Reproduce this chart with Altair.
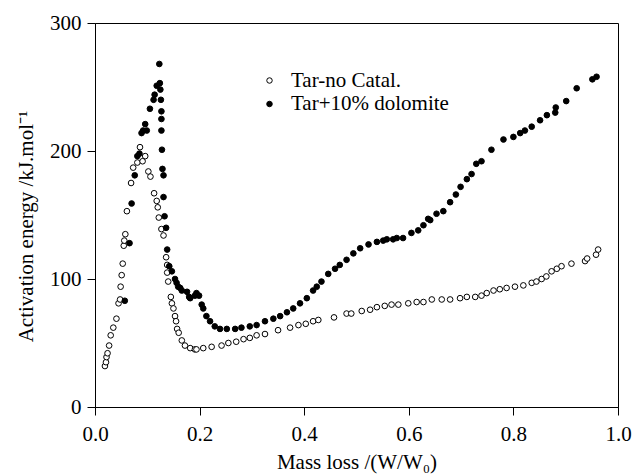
import altair as alt
import pandas as pd

# Tar-no Catal. (open circles)
x_open = [0.019, 0.021, 0.022, 0.024, 0.027, 0.030, 0.035, 0.041, 0.045, 0.048, 0.049, 0.051, 0.053,
          0.055, 0.056, 0.058, 0.061, 0.069, 0.073, 0.081, 0.086, 0.091, 0.096, 0.102, 0.106, 0.113,
          0.118, 0.120, 0.122, 0.127, 0.131, 0.136, 0.138, 0.138, 0.140, 0.145, 0.147, 0.150, 0.153,
          0.155, 0.157, 0.160, 0.166, 0.172, 0.182, 0.191, 0.194, 0.207, 0.223, 0.242, 0.255, 0.270,
          0.284, 0.296, 0.309, 0.325, 0.350, 0.373, 0.389, 0.403, 0.417, 0.427, 0.457, 0.481, 0.490,
          0.510, 0.526, 0.539, 0.554, 0.567, 0.580, 0.599, 0.615, 0.628, 0.644, 0.663, 0.679, 0.698,
          0.711, 0.727, 0.739, 0.749, 0.762, 0.774, 0.787, 0.803, 0.819, 0.835, 0.844, 0.854, 0.863,
          0.873, 0.883, 0.892, 0.911, 0.937, 0.941, 0.958, 0.962]
y_open = [32, 35, 39, 42, 48, 56, 62, 69, 81, 84, 94, 103, 112,
          126, 130, 135, 153, 175, 187, 191, 203, 192, 196, 184, 180, 167,
          161, 156, 148, 139, 134, 117, 111, 105, 98, 86, 81, 77, 71,
          67, 61, 58, 52, 48, 46, 45, 45, 46, 47, 48, 50, 51,
          53, 54, 56, 57, 60, 62, 64, 65, 67, 68, 70, 73, 73,
          75, 76, 78, 79, 80, 80, 81, 82, 82, 84, 84, 84, 85,
          86, 86, 87, 89, 91, 92, 93, 94, 95, 97, 98, 100, 102,
          106, 108, 110, 112, 114, 116, 119, 123]

# Tar+10% dolomite (filled circles)
x_fill = [0.057, 0.066, 0.070, 0.076, 0.081, 0.085, 0.089, 0.092, 0.096, 0.099, 0.105, 0.112, 0.114,
          0.118, 0.123, 0.124, 0.125, 0.126, 0.127, 0.127, 0.127, 0.128, 0.129, 0.131, 0.131, 0.133,
          0.136, 0.138, 0.142, 0.147, 0.153, 0.156, 0.159, 0.163, 0.166, 0.176, 0.180, 0.182, 0.191,
          0.194, 0.199, 0.204, 0.207, 0.213, 0.220, 0.229, 0.239, 0.252, 0.268, 0.280, 0.296, 0.309,
          0.325, 0.341, 0.354, 0.367, 0.379, 0.392, 0.405, 0.417, 0.424, 0.433, 0.446, 0.459, 0.468,
          0.481, 0.494, 0.507, 0.523, 0.539, 0.551, 0.558, 0.570, 0.577, 0.589, 0.605, 0.618, 0.628,
          0.637, 0.641, 0.653, 0.666, 0.679, 0.690, 0.699, 0.711, 0.720, 0.729, 0.739, 0.758, 0.781,
          0.800, 0.813, 0.822, 0.835, 0.851, 0.864, 0.880, 0.881, 0.901, 0.921, 0.951, 0.959]
y_fill = [83, 128, 159, 181, 196, 198, 214, 216, 221, 216, 233, 240, 244,
          251, 268, 253, 248, 240, 231, 225, 216, 201, 186, 181, 164, 149,
          140, 123, 110, 106, 100, 97, 94, 93, 91, 90, 86, 85, 87,
          89, 87, 80, 77, 71, 67, 63, 61, 61, 61, 62, 63, 64,
          67, 69, 71, 74, 77, 81, 85, 91, 94, 98, 104, 108, 111,
          115, 120, 124, 127, 129, 130, 131, 131, 132, 132, 136, 138, 142,
          147, 146, 151, 153, 160, 166, 172, 178, 182, 190, 192, 201, 209,
          211, 214, 216, 219, 224, 228, 230, 234, 239, 249, 256, 258]

series_names = ["Tar-no Catal.", "Tar+10% dolomite"]

df = pd.concat([
    pd.DataFrame({"x": x_open, "y": y_open, "series": series_names[0]}),
    pd.DataFrame({"x": x_fill, "y": y_fill, "series": series_names[1]}),
])

FONT = "Liberation Serif"
FS = 21

chart = alt.Chart(df).mark_point(shape="circle", size=32, strokeWidth=1, stroke="black", opacity=1, filled=True).encode(
    x=alt.X("x:Q", scale=alt.Scale(domain=[0, 1], nice=False),
            axis=alt.Axis(values=[0, 0.2, 0.4, 0.6, 0.8, 1.0], format=".1f",
                          title="Mass loss /(W/W₀)", labelFlush=False, labelOverlap=False)),
    y=alt.Y("y:Q", scale=alt.Scale(domain=[0, 300], nice=False),
            axis=alt.Axis(values=[0, 100, 200, 300], title="Activation energy /kJ.mol⁻¹",
                          titleY=203, labelFlush=False, labelOverlap=False)),
    fill=alt.Fill("series:N", scale=alt.Scale(domain=series_names, range=["white", "black"]),
                  legend=alt.Legend(title=None, orient="none", legendX=164, legendY=47, padding=0,
                                    labelFont=FONT, labelFontSize=FS, labelColor="black",
                                    symbolType="circle", symbolSize=30, symbolStrokeColor="black",
                                    symbolStrokeWidth=1, rowPadding=1.5, labelOffset=11)),
).properties(
    width=523, height=384,
    autosize=alt.AutoSizeParams(type="none"),
    padding={"left": 95, "top": 23, "right": 14, "bottom": 68},
).configure(
    font=FONT
).configure_view(
    stroke="black", strokeWidth=1
).configure_axis(
    grid=False, domainColor="black", tickColor="black", tickSize=8,
    labelFont=FONT, labelFontSize=FS, labelColor="black",
    titleFont=FONT, titleFontSize=FS, titleFontWeight="normal", titleColor="black",
).configure_axisX(labelPadding=8, titlePadding=7).configure_axisY(labelPadding=6, titlePadding=13)

chart.save("out.html", embed_options={"renderer": "svg", "actions": False})
